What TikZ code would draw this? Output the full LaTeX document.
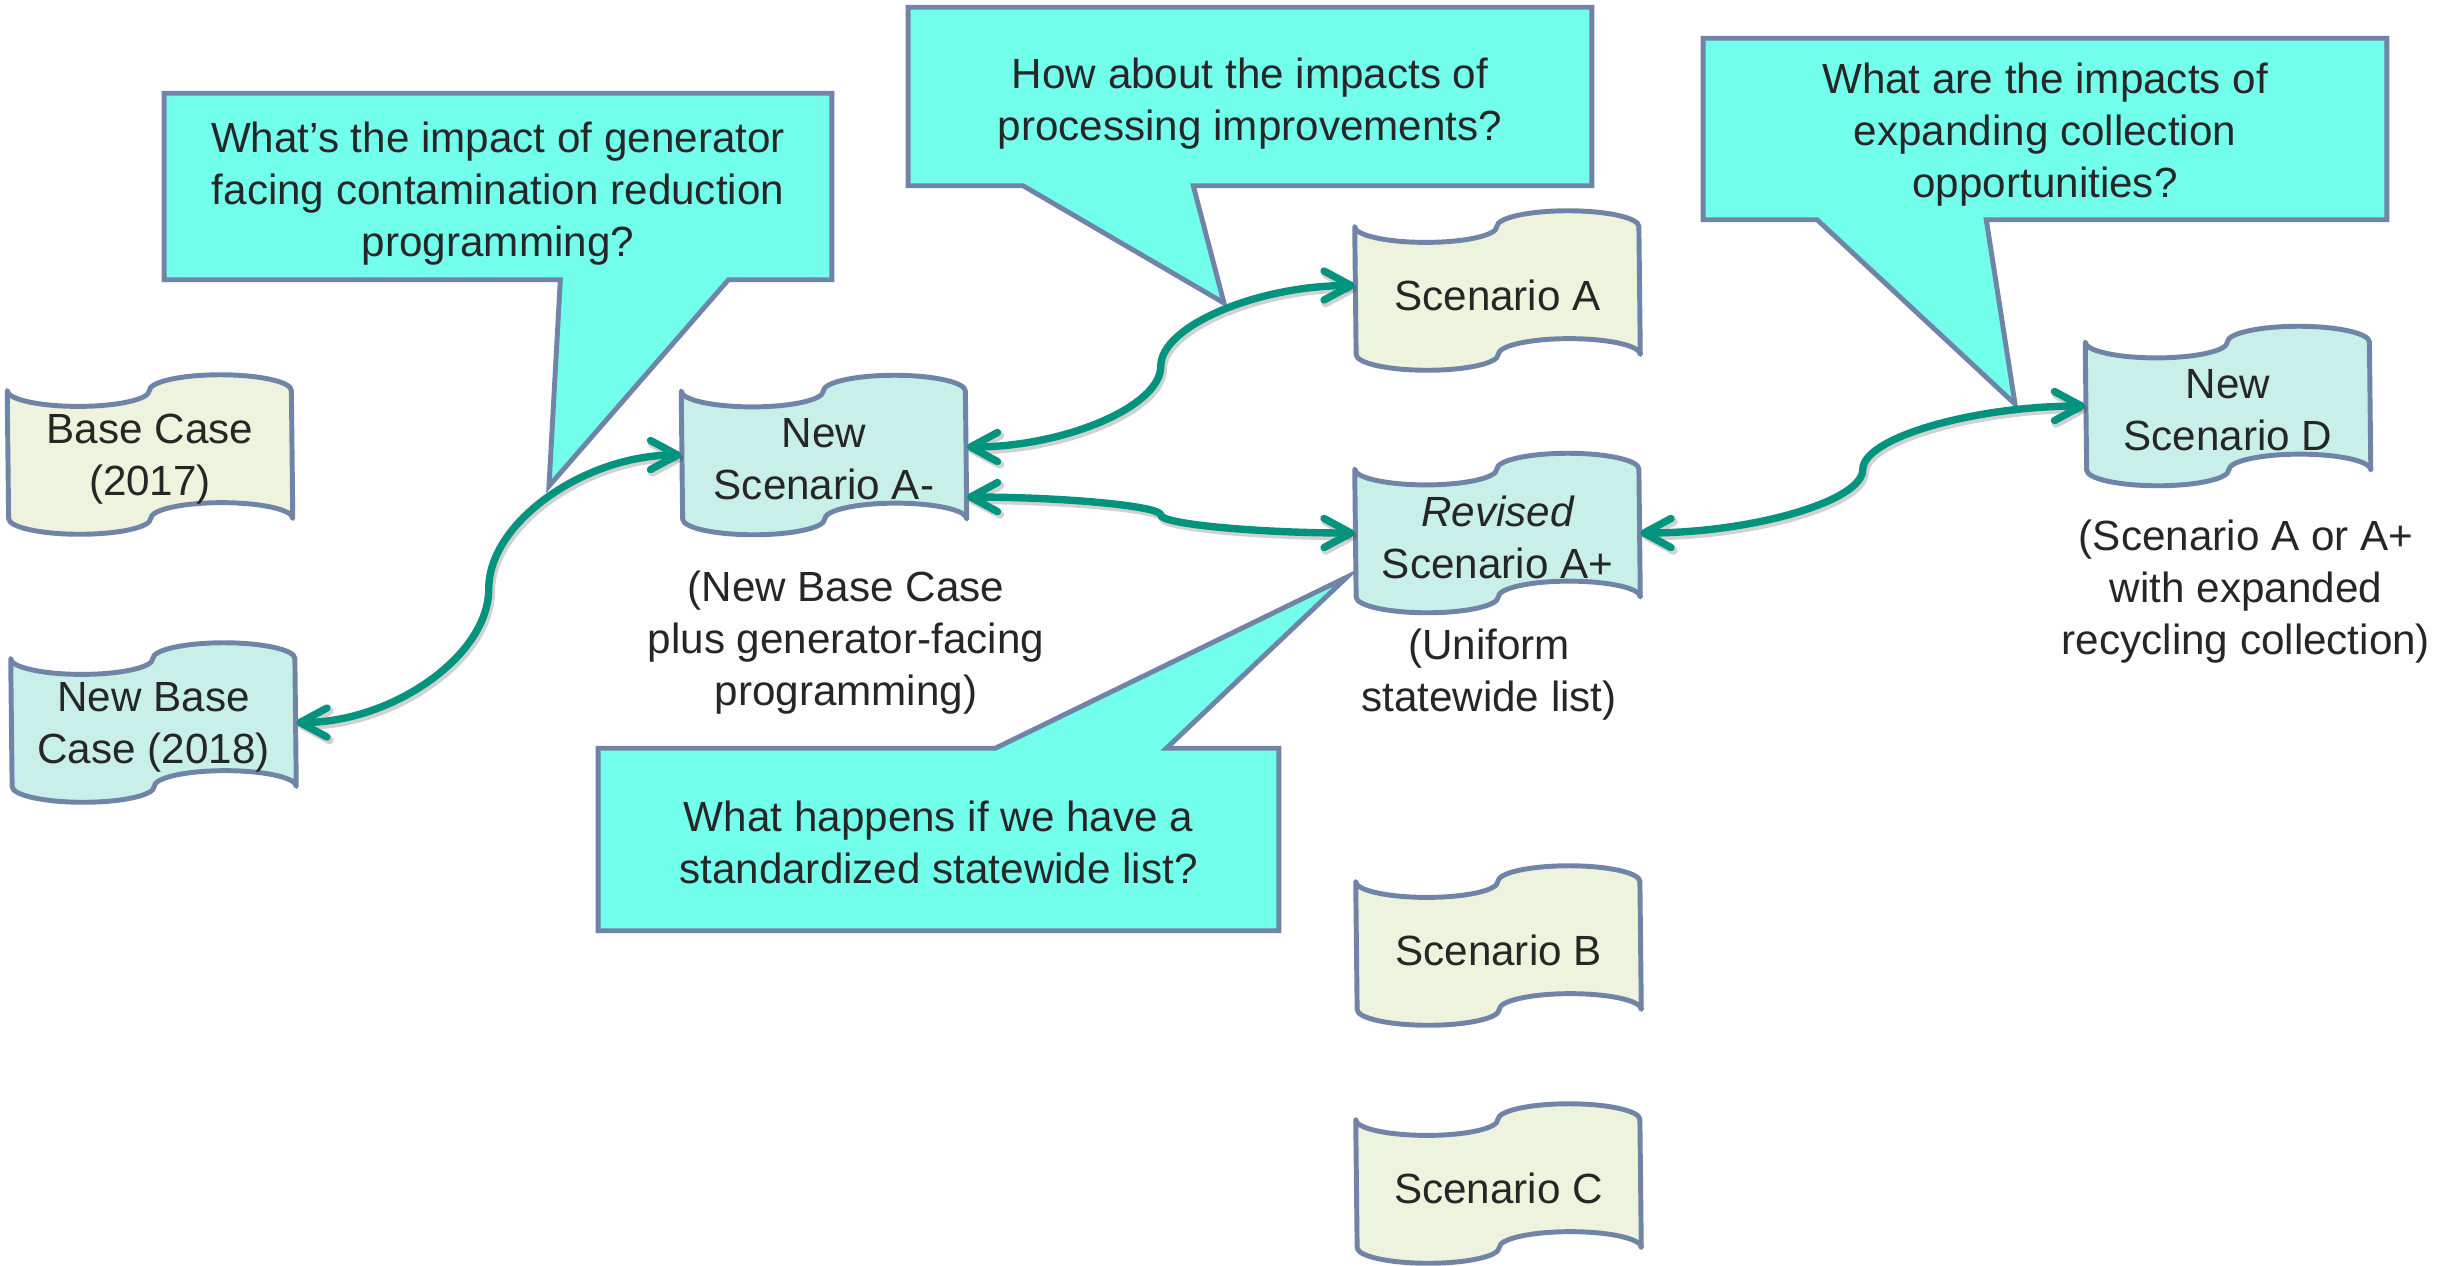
\documentclass[tikz,border=0pt]{standalone}
\usepackage{fontspec}
\setmainfont{Liberation Sans}
\usetikzlibrary{arrows.meta,calc}
\definecolor{tapeedge}{RGB}{112,132,168}
\definecolor{tealfill}{RGB}{200,240,232}
\definecolor{olivefill}{RGB}{237,243,220}
\definecolor{callfill}{RGB}{114,255,236}
\definecolor{conn}{RGB}{0,148,126}
\definecolor{txt}{RGB}{38,38,38}
\pgfdeclarelayer{paper}
\pgfdeclarelayer{back}
\pgfdeclarelayer{bg}
\pgfsetlayers{paper,back,bg,main}
\tikzset{
  every node/.style={font=\fontsize{12}{14.8}\selectfont, text=txt},
  tapebox/.style={rectangle, minimum width=2.84cm, minimum height=1.58cm, inner sep=0pt},
  tapeline/.style={draw=tapeedge, line width=1.4pt, line join=round},
  boxtext/.style={inner sep=0pt, align=center},
  callbox/.style={rectangle, inner sep=0pt},
  callline/.style={draw=tapeedge, line width=1.4pt, fill=callfill, line join=miter},
  caption/.style={align=center, inner sep=0pt},
  link/.style={draw=conn, line width=2.1pt, line cap=round,
    >={Straight Barb[length=2.7mm,width=2.9mm,round]}, <->},
  linkshadow/.style={draw=black, opacity=0.18, line width=2.4pt, line cap=round,
    >={Straight Barb[length=2.7mm,width=2.9mm,round]}, <->,
    transform canvas={shift={(0.02cm,-0.03cm)}}},
}
\newcommand\tapeshape[4]{%
  \node[tapebox] (#1) at (#2) {};
  \node[boxtext] (#1-t) at ([yshift=-0.045cm]#1.center) {#4};
  \begin{pgfonlayer}{bg}
  \path[tapeline, fill=#3] ([yshift=-0.158cm]#1.north west)
    arc[start angle=180, end angle=360, x radius=0.71cm, y radius=0.158cm]
    arc[start angle=180, end angle=0, x radius=0.71cm, y radius=0.158cm]
    -- ([yshift=0.158cm]#1.south east)
    arc[start angle=0, end angle=180, x radius=0.71cm, y radius=0.158cm]
    arc[start angle=0, end angle=-180, x radius=0.71cm, y radius=0.158cm]
    -- cycle;
  \end{pgfonlayer}}
\newcommand\sconnpath[3]{%
  \draw[#1] let \p1=(#2), \p2=(#3) in (\p1)
    .. controls ({(3*\x1+\x2)/4},\y1) and ({(\x1+\x2)/2},{(3*\y1+\y2)/4})
    .. ({(\x1+\x2)/2},{(\y1+\y2)/2})
    .. controls ({(\x1+\x2)/2},{(\y1+3*\y2)/4}) and ({(\x1+3*\x2)/4},\y2)
    .. (\p2);}
\newcommand\sconn[2]{\sconnpath{linkshadow}{#1}{#2}\sconnpath{link}{#1}{#2}}
\begin{document}
\begin{tikzpicture}[x=0.01cm, y=-0.01cm]
\begin{pgfonlayer}{paper}
\path[use as bounding box, fill=white] (0,0) rectangle (2458,1261);
\end{pgfonlayer}

% callouts
\node[callbox, minimum width=6.66cm, minimum height=1.85cm] (q1) at (498,186.5) {};
\node[boxtext] (q1-t) at ([yshift=-0.07cm]q1.center)
  {What’s the impact of generator\\facing contamination reduction\\programming?};
\coordinate (t1) at (549,486);
\node[callbox, minimum width=6.82cm, minimum height=1.77cm] (q2) at (1250,96.5) {};
\node[boxtext] (q2-t) at ([yshift=-0.07cm]q2.center)
  {How about the impacts of\\processing improvements?};
\coordinate (t2) at (1224,303);
\node[callbox, minimum width=6.82cm, minimum height=1.80cm] (q3) at (2045,129) {};
\node[boxtext] (q3-t) at ([yshift=-0.06cm]q3.center)
  {What are the impacts of\\expanding collection\\opportunities?};
\coordinate (t3) at (2015,404);
\node[callbox, minimum width=6.79cm, minimum height=1.81cm] (q4) at (938.5,839.5) {};
\node[boxtext] (q4-t) at ([yshift=-0.03cm]q4.center)
  {What happens if we have a\\standardized statewide list?};
\coordinate (t4) at (1347,577);
\begin{pgfonlayer}{back}
\path[callline] (q1.north west) -- (q1.north east) -- (q1.south east)
  -- ([xshift=5.64cm]q1.south west) -- (t1) -- ([xshift=3.96cm]q1.south west)
  -- (q1.south west) -- cycle;
\path[callline] (q2.north west) -- (q2.north east) -- (q2.south east)
  -- ([xshift=2.85cm]q2.south west) -- (t2) -- ([xshift=1.15cm]q2.south west)
  -- (q2.south west) -- cycle;
\path[callline] (q3.north west) -- (q3.north east) -- (q3.south east)
  -- ([xshift=2.83cm]q3.south west) -- (t3) -- ([xshift=1.14cm]q3.south west)
  -- (q3.south west) -- cycle;
\path[callline] (q4.south west) -- (q4.south east) -- (q4.north east)
  -- ([xshift=5.68cm]q4.north west) -- (t4) -- ([xshift=3.97cm]q4.north west)
  -- (q4.north west) -- cycle;
\end{pgfonlayer}

% tapes
\tapeshape{bc17}{150,454.5}{olivefill}{Base Case\\(2017)}
\tapeshape{bc18}{153.5,722.5}{tealfill}{New Base\\Case (2018)}
\tapeshape{am}{824,455}{tealfill}{New\\Scenario A-}
\tapeshape{sca}{1497.5,290.5}{olivefill}{Scenario A}
\tapeshape{reva}{1497.5,533}{tealfill}{\itshape Revised\\Scenario A+}
\tapeshape{scd}{2228,406}{tealfill}{New\\Scenario D}
\tapeshape{scb}{1498.5,945.5}{olivefill}{Scenario B}
\tapeshape{scc}{1498.5,1183.5}{olivefill}{Scenario C}

% captions
\node[caption] (cap1) at (846,643) {(New Base Case\\plus generator-facing\\programming)};
\node[caption] (cap2) at (1489,675) {(Uniform\\statewide list)};
\node[caption] (cap3) at (2246,592) {(Scenario A or A+\\with expanded\\recycling collection)};

% connectors
\sconn{bc18.east}{am.west}
\sconn{[yshift=0.08cm]am.east}{[yshift=0.05cm]sca.west}
\sconn{[yshift=-0.42cm]am.east}{reva.west}
\sconn{reva.east}{scd.west}
\end{tikzpicture}
\end{document}
